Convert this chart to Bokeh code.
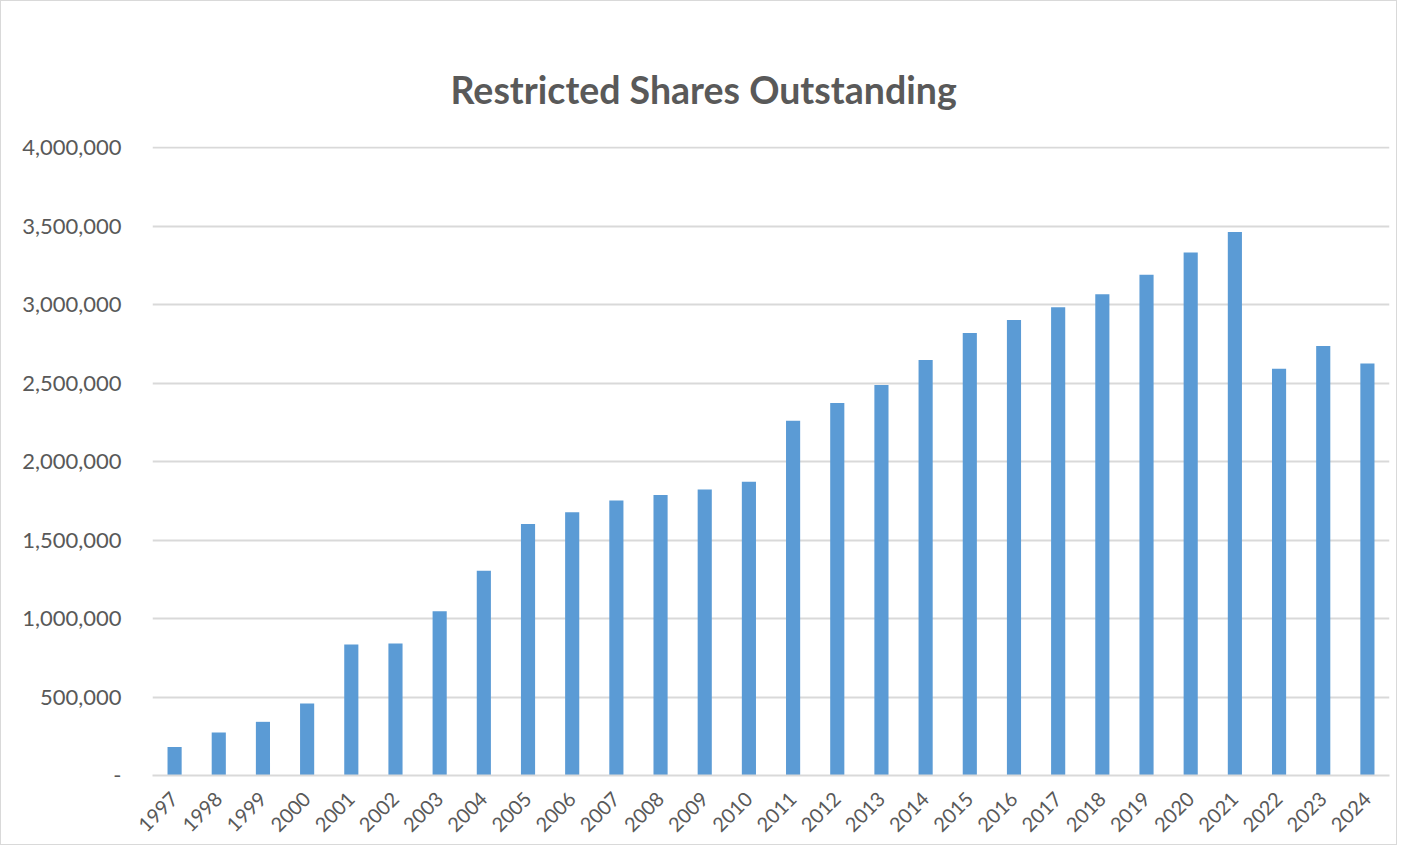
from bokeh.plotting import figure
from bokeh.models import NumeralTickFormatter, FactorRange
from bokeh.embed import file_html
from bokeh.resources import INLINE
import math

years = [str(y) for y in range(1997, 2025)]
shares = [181000, 274000, 342000, 459000, 834000, 841000, 1046000, 1304000,
          1603000, 1677000, 1753000, 1788000, 1822000, 1871000, 2261000, 2374000,
          2489000, 2648000, 2820000, 2903000, 2983000, 3066000, 3191000, 3333000,
          3463000, 2592000, 2737000, 2626000]
y_ticks = [0, 500000, 1000000, 1500000, 2000000, 2500000, 3000000, 3500000, 4000000]

FONT = "Lato"
GRAY = "#595959"
GRID = "#d9d9d9"

p = figure(x_range=FactorRange(*years, range_padding=0), y_range=(0, 4008000),
           width=1397, height=845, output_backend="svg", toolbar_location=None,
           min_border_left=151, min_border_right=9, min_border_top=145, min_border_bottom=71,
           title="Restricted Shares Outstanding")
p.styles = {"border": "1px solid #d9d9d9"}

p.vbar(x=years, top=shares, width=0.32, color="#5b9bd5", line_color=None)

p.title.align = "left"
p.title.text_font = FONT
p.title.text_font_size = "37.5px"
p.title.text_font_style = "bold"
p.title.text_color = GRAY
p.title.standoff = 70
p.title.offset = 298

p.outline_line_color = None
p.xgrid.grid_line_color = None
p.ygrid.grid_line_color = GRID
p.ygrid.grid_line_width = 2
p.yaxis.ticker = y_ticks
p.yaxis.formatter = NumeralTickFormatter(format="0,0")
p.yaxis.major_label_overrides = {0: "-"}
p.yaxis.axis_line_color = None
p.yaxis.major_tick_line_color = None
p.yaxis.minor_tick_line_color = None
p.yaxis.major_label_standoff = 25
p.yaxis.major_label_text_font = FONT
p.yaxis.major_label_text_font_size = "22px"
p.yaxis.major_label_text_color = GRAY

p.xaxis.axis_line_color = GRID
p.xaxis.axis_line_width = 2
p.xaxis.major_tick_line_color = None
p.xaxis.minor_tick_line_color = None
p.xaxis.major_label_orientation = math.pi / 4
p.xaxis.major_label_standoff = 14
p.xaxis.major_label_text_font = FONT
p.xaxis.major_label_text_font_size = "20px"
p.xaxis.major_label_text_color = GRAY

open("out.html", "w").write(file_html(p, INLINE))
